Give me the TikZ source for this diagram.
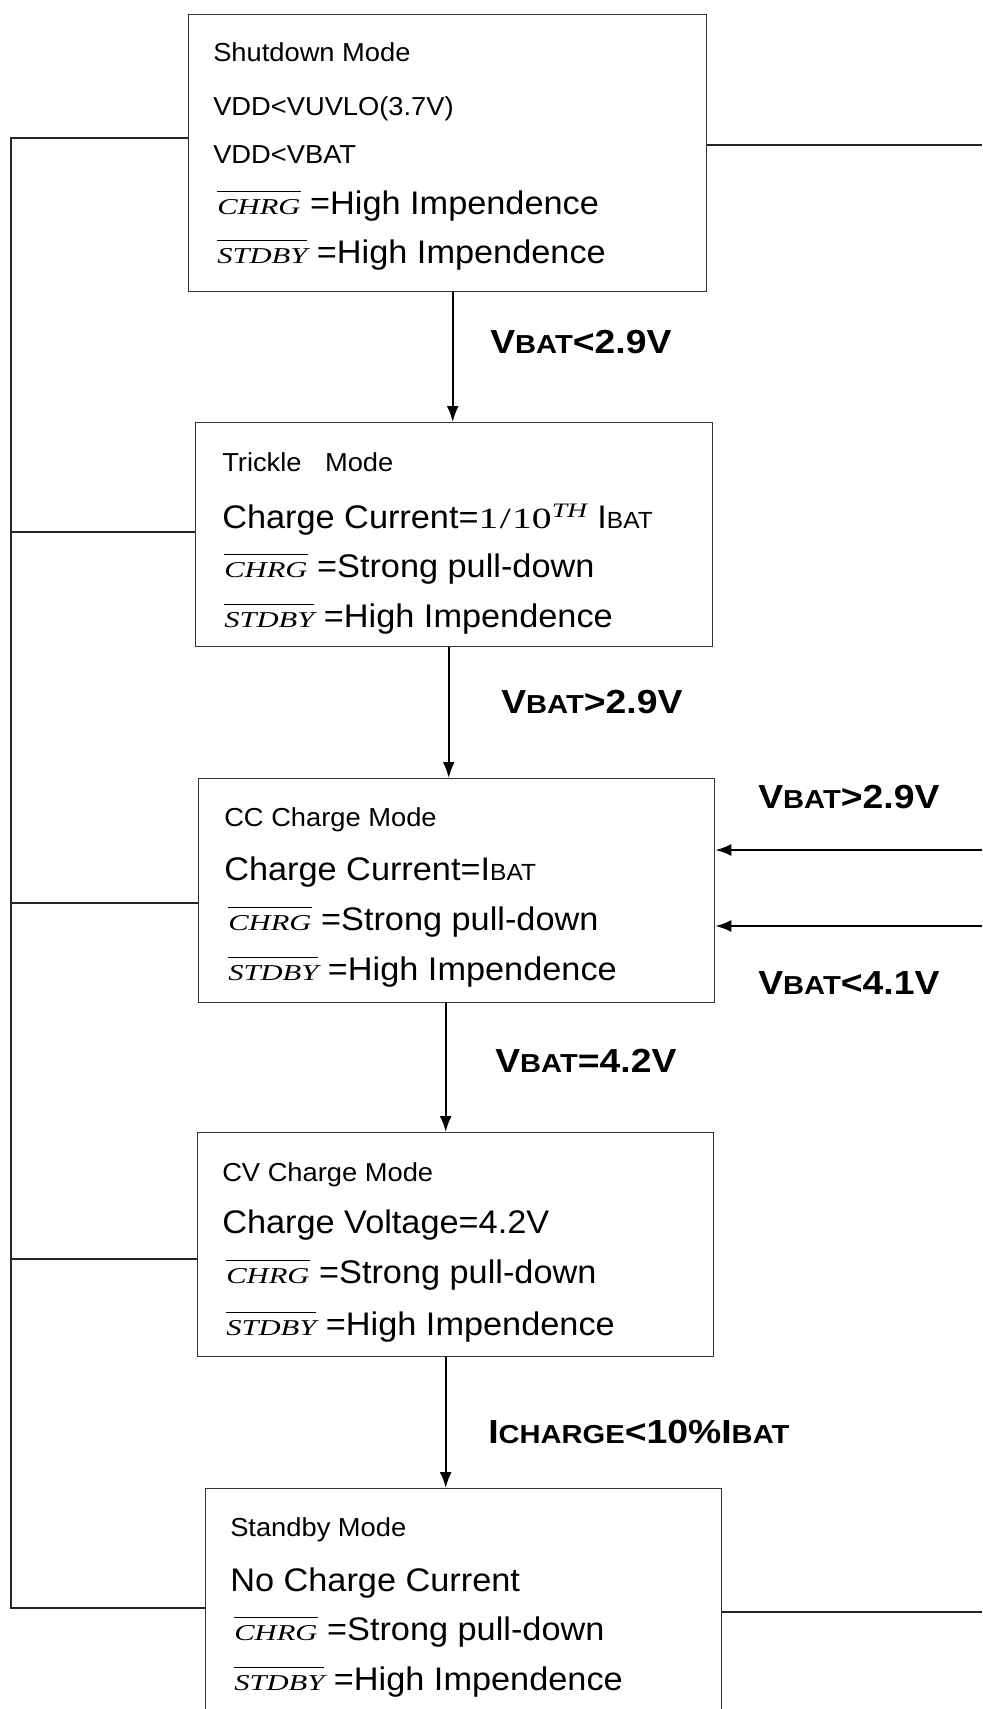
\documentclass[tikz,border=0pt]{standalone}
\usepackage{fontspec}
\setmainfont[FakeStretch=1.05]{Liberation Sans}
\newfontfamily\condfont[FakeStretch=1.12]{Liberation Sans}
\newfontfamily\tmsfont[FakeStretch=1.35]{Liberation Serif}
\usetikzlibrary{calc, arrows.meta}

\newcommand\barsig[1]{\leavevmode\vbox{\hrule height 1.3pt\kern 5pt\hbox{\fontsize{17pt}{18pt}\tmsfont\itshape #1}}}
\newcommand\lowcaps[1]{{\fontsize{19.5pt}{20pt}\selectfont #1}}
\newcommand\lowcapsbox[1]{{\fontsize{17.5pt}{18pt}\selectfont #1}}

\tikzset{
  modebox/.style={draw=black!80, line width=1.1pt, rectangle, anchor=north west, inner sep=0pt},
  modetitle/.style={anchor=base west, inner sep=0pt, font=\fontsize{19.5pt}{20pt}\selectfont},
  modeline/.style={anchor=base west, inner sep=0pt, font=\fontsize{24.5pt}{26pt}\selectfont},
  condlabel/.style={anchor=base west, inner sep=0pt, font=\fontsize{25pt}{26pt}\condfont\bfseries},
  wire/.style={draw=black!85, line width=1.1pt},
  arr/.style={draw=black, line width=1.6pt, -{Latex[length=12pt,width=9pt]}},
}

\begin{document}
\begin{tikzpicture}[x=0.75pt, y=-0.75pt]
  \clip (0,0) rectangle (982,1709);

  % mode boxes
  \node[modebox, minimum width=388.5pt, minimum height=207.75pt] (shut) at (188,14) {};
  \node[modebox, minimum width=387.75pt, minimum height=168pt] (trickle) at (195,422) {};
  \node[modebox, minimum width=387pt, minimum height=168pt] (cc) at (198,778) {};
  \node[modebox, minimum width=387pt, minimum height=168pt] (cv) at (197,1132) {};
  \node[modebox, minimum width=387pt, minimum height=225pt] (stby) at (205,1488) {};

  % shutdown
  \node[modetitle] (shut1) at (213,62) {Shutdown Mode};
  \node[modetitle] (shut2) at (213,115) {VDD<VUVLO(3.7V)};
  \node[modetitle] (shut3) at (213,163) {VDD<VBAT};
  \node[modeline] (shut4) at (217,214) {\barsig{CHRG} =High Impendence};
  \node[modeline] (shut5) at (217,263) {\barsig{STDBY} =High Impendence};

  % trickle
  \node[modetitle] (trk1) at (222,471) {Trickle\hspace{0.9em}Mode};
  \node[modeline] (trk2) at (222,528) {Charge Current={\fontsize{22pt}{24pt}\selectfont\tmsfont 1\kern1pt/\kern1pt10\textsuperscript{\itshape TH}} I\lowcapsbox{BAT}};
  \node[modeline] (trk3) at (224,577) {\barsig{CHRG} =Strong pull-down};
  \node[modeline] (trk4) at (224,627) {\barsig{STDBY} =High Impendence};

  % constant current
  \node[modetitle] (cc1) at (224,826) {CC Charge Mode};
  \node[modeline] (cc2) at (224,880) {Charge Current=I\lowcapsbox{BAT}};
  \node[modeline] (cc3) at (228,930) {\barsig{CHRG} =Strong pull-down};
  \node[modeline] (cc4) at (228,980) {\barsig{STDBY} =High Impendence};

  % constant voltage
  \node[modetitle] (cv1) at (222,1181) {CV Charge Mode};
  \node[modeline] (cv2) at (222,1233) {Charge Voltage=4.2V};
  \node[modeline] (cv3) at (226,1283) {\barsig{CHRG} =Strong pull-down};
  \node[modeline] (cv4) at (226,1335) {\barsig{STDBY} =High Impendence};

  % standby
  \node[modetitle] (sb1) at (230,1536) {Standby Mode};
  \node[modeline] (sb2) at (230,1591) {No Charge Current};
  \node[modeline] (sb3) at (234,1640) {\barsig{CHRG} =Strong pull-down};
  \node[modeline] (sb4) at (234,1690) {\barsig{STDBY} =High Impendence};

  % transitions
  \draw[arr] ($(shut.south)+(5,0)$) -- ($(trickle.north)+(-1.5,0)$);
  \draw[arr] ($(trickle.south)+(-5.5,0)$) -- ($(cc.north)+(-8,0)$);
  \draw[arr] ($(cc.south)+(-11,0)$) -- ($(cv.north)+(-10,0)$);
  \draw[arr] ($(cv.south)+(-10,0)$) -- ($(stby.north)+(-18,0)$);

  \node[condlabel] (c1) at (490,353) {V\lowcaps{BAT}<2.9V};
  \node[condlabel] (c2) at (501,713) {V\lowcaps{BAT}>2.9V};
  \node[condlabel] (c3) at (495,1072) {V\lowcaps{BAT}=4.2V};
  \node[condlabel] (c4) at (488,1443) {I\lowcaps{CHARGE}<10\%I\lowcaps{BAT}};
  \node[condlabel] (c5) at (758,808) {V\lowcaps{BAT}>2.9V};
  \node[condlabel] (c6) at (758,994) {V\lowcaps{BAT}<4.1V};

  % left return line
  \coordinate (l1) at (11,138);
  \coordinate (l2) at (11,532);
  \coordinate (l3) at (11,903);
  \coordinate (l4) at (11,1259);
  \coordinate (l5) at (11,1608);
  \draw[wire] (shut.west |- l1) -- (l1) -- (l5) -- (stby.west |- l5);
  \draw[wire] (l2) -- (trickle.west |- l2);
  \draw[wire] (l3) -- (cc.west |- l3);
  \draw[wire] (l4) -- (cv.west |- l4);

  % right side
  \coordinate (r1) at (982,145);
  \coordinate (r2) at (982,850);
  \coordinate (r3) at (982,926);
  \coordinate (r4) at (982,1612);
  \draw[wire] (shut.east |- r1) -- (r1);
  \draw[wire] (stby.east |- r4) -- (r4);
  \draw[arr, line width=1.3pt] (r2) -- (cc.east |- r2);
  \draw[arr, line width=1.3pt] (r3) -- (cc.east |- r3);
\end{tikzpicture}
\end{document}
